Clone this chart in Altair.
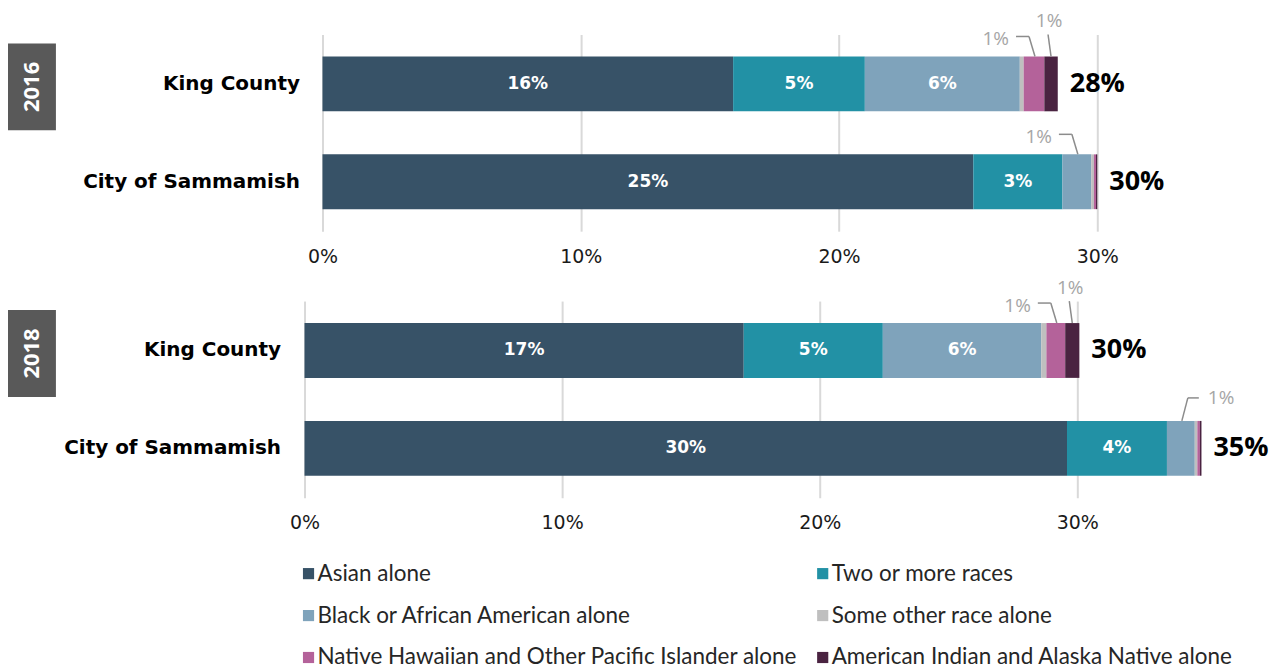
import altair as alt
import pandas as pd

CATEGORIES = [
    "Asian alone",
    "Two or more races",
    "Black or African American alone",
    "Some other race alone",
    "Native Hawaiian and Other Pacific Islander alone",
    "American Indian and Alaska Native alone",
]
COLORS = ["#375267", "#2291a5", "#7fa3bb", "#bfbfbf", "#b4629a", "#4a2341"]
YEARS = ["2016", "2018"]
LOCATIONS = ["King County", "City of Sammamish"]

# percent of population, in category order
VALUES_2016_KING = [15.9, 5.1, 6.0, 0.15, 0.8, 0.52]
VALUES_2016_SAMM = [25.2, 3.45, 1.12, 0.1, 0.08, 0.05]
VALUES_2018_KING = [17.05, 5.4, 6.15, 0.2, 0.73, 0.55]
VALUES_2018_SAMM = [29.6, 3.88, 1.08, 0.1, 0.1, 0.06]

# small segments labelled with a call-out above the bar
CALLOUTS = [
    ("2016", "King County", CATEGORIES[4], "left"),
    ("2016", "King County", CATEGORIES[5], "up"),
    ("2016", "City of Sammamish", CATEGORIES[2], "left"),
    ("2018", "King County", CATEGORIES[4], "left"),
    ("2018", "King County", CATEGORIES[5], "up"),
    ("2018", "City of Sammamish", CATEGORIES[2], "right"),
]

rows = []
for year, loc, vals in [
    ("2016", "King County", VALUES_2016_KING),
    ("2016", "City of Sammamish", VALUES_2016_SAMM),
    ("2018", "King County", VALUES_2018_KING),
    ("2018", "City of Sammamish", VALUES_2018_SAMM),
]:
    for i, (c, v) in enumerate(zip(CATEGORIES, vals)):
        rows.append({"year": year, "loc": loc, "cat": c, "idx": i, "value": v, "callout": ""})
df = pd.DataFrame(rows)
for y_, l_, c_, s_ in CALLOUTS:
    df.loc[(df.year == y_) & (df["loc"] == l_) & (df.cat == c_), "callout"] = s_

legend_df = pd.DataFrame({"cat": CATEGORIES, "idx": list(range(len(CATEGORIES)))})

FONT = "Open Sans"
WIDE = "DejaVu Sans"
GRAY_TXT = "#a6a6a6"
LEADER = "#8c8c8c"
HALF = 27.5
COLOR_SCALE = alt.Scale(domain=CATEGORIES, range=COLORS)


def panel(year, width, x_range, xmax, label_pad):
    base = (
        alt.Chart(df)
        .transform_filter(alt.datum.year == year)
        .transform_stack(
            stack="value", as_=["x0", "x1"], groupby=["loc"],
            sort=[alt.SortField("idx", order="ascending")],
        )
        .transform_calculate(
            mid="(datum.x0 + datum.x1) / 2",
            lbl="format(datum.value, '.0f') + '%'",
        )
    )
    xscale = alt.Scale(domain=[0, xmax], range=x_range, nice=False, zero=True)
    ysc = alt.Scale(paddingInner=0.44, paddingOuter=0.225)

    def Y():
        return alt.Y("loc:N", sort=LOCATIONS, scale=ysc, title=None)

    bars = base.mark_bar().encode(
        x=alt.X(
            "x0:Q", scale=xscale, title=None,
            axis=alt.Axis(
                values=[0, 10, 20, 30], grid=True, gridColor="#d9d9d9", gridWidth=2,
                domain=False, ticks=False, labelPadding=16, labelFontSize=19,
                labelColor="#1a1a1a", labelFont=WIDE, labelExpr="datum.value + '%'",
                labelFlush=False,
            ),
        ),
        x2="x1:Q",
        y=alt.Y(
            "loc:N", sort=LOCATIONS, scale=ysc, title=None,
            axis=alt.Axis(
                domain=False, ticks=False, labelPadding=label_pad, labelFontSize=20,
                labelFontWeight="bold", labelColor="#000000", labelFont=WIDE,
                labelLimit=400,
            ),
        ),
        color=alt.Color("cat:N", scale=COLOR_SCALE, legend=None),
    )
    inside = (
        base.transform_filter("datum.value >= 2")
        .mark_text(color="white", fontWeight="bold", fontSize=17, font=WIDE)
        .encode(x=alt.X("mid:Q", title=None), y=Y(), text="lbl:N")
    )
    totals = (
        base.transform_aggregate(total="sum(value)", groupby=["loc"])
        .transform_calculate(tl="format(datum.total, '.0f') + '%'")
        .mark_text(align="left", dx=12, fontSize=27, fontWeight="bold", color="#000000", font=FONT)
        .encode(x=alt.X("total:Q", title=None), y=Y(), text="tl:N")
    )

    def co(kind):
        return base.transform_filter(f"datum.callout == '{kind}'")

    left_text = co("left").mark_text(
        align="right", baseline="middle", dx=-25, dy=-HALF - 17,
        fontSize=19, color=GRAY_TXT, font=FONT,
    ).encode(x=alt.X("mid:Q", title=None), y=Y(), text="lbl:N")
    left_slant = co("left").mark_rule(
        color=LEADER, strokeWidth=1.5, xOffset=1, x2Offset=-5,
        yOffset=-HALF, y2Offset=-HALF - 20,
    ).encode(x=alt.X("mid:Q", title=None), x2="mid:Q", y=Y(), y2="loc:N")
    left_h = co("left").mark_rule(
        color=LEADER, strokeWidth=1.5, xOffset=-5, x2Offset=-18,
        yOffset=-HALF - 20, y2Offset=-HALF - 20,
    ).encode(x=alt.X("mid:Q", title=None), x2="mid:Q", y=Y(), y2="loc:N")

    up_text = co("up").mark_text(
        align="center", baseline="middle", dx=-2, dy=-HALF - 35,
        fontSize=19, color=GRAY_TXT, font=FONT,
    ).encode(x=alt.X("mid:Q", title=None), y=Y(), text="lbl:N")
    up_line = co("up").mark_rule(
        color=LEADER, strokeWidth=1.5, xOffset=0, x2Offset=-3,
        yOffset=-HALF, y2Offset=-HALF - 22,
    ).encode(x=alt.X("mid:Q", title=None), x2="mid:Q", y=Y(), y2="loc:N")

    right_text = co("right").mark_text(
        align="left", baseline="middle", dx=27, dy=-HALF - 23,
        fontSize=19, color=GRAY_TXT, font=FONT,
    ).encode(x=alt.X("mid:Q", title=None), y=Y(), text="lbl:N")
    right_slant = co("right").mark_rule(
        color=LEADER, strokeWidth=1.5, xOffset=1, x2Offset=7,
        yOffset=-HALF, y2Offset=-HALF - 23,
    ).encode(x=alt.X("mid:Q", title=None), x2="mid:Q", y=Y(), y2="loc:N")
    right_h = co("right").mark_rule(
        color=LEADER, strokeWidth=1.5, xOffset=7, x2Offset=18,
        yOffset=-HALF - 23, y2Offset=-HALF - 23,
    ).encode(x=alt.X("mid:Q", title=None), x2="mid:Q", y=Y(), y2="loc:N")

    ydf = pd.DataFrame({"year": [year]})
    box = alt.Chart(ydf).mark_rect(color="#595959").encode(
        x=alt.value(-297), x2=alt.value(-249), y=alt.value(9), y2=alt.value(96)
    )
    box_txt = alt.Chart(ydf).mark_text(
        angle=270, color="white", fontWeight="bold", fontSize=22, font=FONT,
        baseline="middle", align="center",
    ).encode(x=alt.value(-273), y=alt.value(52.5), text="year:N")

    return alt.layer(
        bars, inside, totals,
        left_text, left_slant, left_h,
        up_text, up_line,
        right_text, right_slant, right_h,
        box, box_txt,
    ).properties(width=width, height=197)


p1 = panel("2016", 794, [18, 794], 30, 5)
p2 = panel("2018", 903, [0, 903], 35, 24)

leg_base = alt.Chart(legend_df).transform_calculate(
    col="datum.idx % 2", row="floor(datum.idx / 2)"
)
leg_x = alt.X("col:Q", scale=alt.Scale(domain=[0, 1], range=[4, 519]), axis=None)
leg_y = alt.Y("row:Q", scale=alt.Scale(domain=[0, 2], range=[29, 113]), axis=None)
leg_sq = leg_base.mark_square(size=125, opacity=1).encode(
    x=leg_x, y=leg_y, color=alt.Color("cat:N", scale=COLOR_SCALE, legend=None)
)
leg_tx = leg_base.mark_text(
    align="left", baseline="middle", dx=9, fontSize=22.5, font="Lato", color="#262626"
).encode(x=leg_x, y=leg_y, text="cat:N")
legend_chart = alt.layer(leg_sq, leg_tx).properties(width=903, height=118)

chart = (
    alt.vconcat(p1, p2, legend_chart, spacing=12)
    .resolve_scale(x="independent", y="independent", color="shared")
    .properties(padding={"left": 0, "top": 3, "right": 0, "bottom": 0})
    .configure_view(stroke=None)
)

chart.save("out.html", embed_options={"renderer": "svg", "actions": False})
